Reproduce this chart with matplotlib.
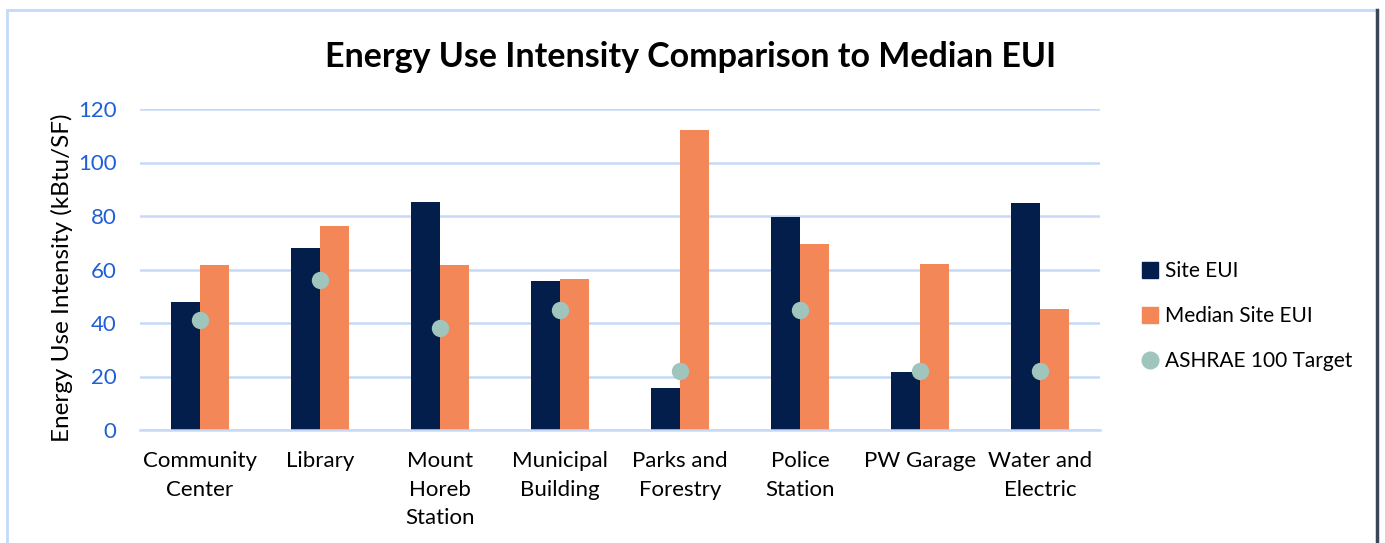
import numpy as np
from matplotlib import pyplot as plt
from matplotlib.patches import Rectangle
from matplotlib.lines import Line2D

plt.rcParams['font.family'] = ['Lato', 'DejaVu Sans']

# data
categories = ["Community\nCenter", "Library", "Mount\nHoreb\nStation", "Municipal\nBuilding",
              "Parks and\nForestry", "Police\nStation", "PW Garage", "Water and\nElectric"]
site_eui = [47.8, 68.2, 85.4, 55.6, 15.7, 79.5, 21.7, 85.0]
median_eui = [61.7, 76.1, 61.7, 56.3, 112.0, 69.5, 62.2, 45.4]
ashrae_target = [41.0, 56.0, 38.0, 45.0, 22.0, 45.0, 22.0, 22.0]
yticks = [0, 20, 40, 60, 80, 100, 120]

navy = "#031e4a"
orange = "#f48757"
teal = "#9fc5bd"
grid_col = "#c6d9f7"
tick_col = "#1f5fd6"

fig = plt.figure(figsize=(13.85, 5.43), dpi=100)
ax = fig.add_axes([140 / 1385, 113 / 543, 960 / 1385, 321 / 543])

x = np.arange(len(categories))
w = 0.24
ax.bar(x - w / 2, site_eui, width=w, color=navy, zorder=2, label="Site EUI")
ax.bar(x + w / 2, median_eui, width=w, color=orange, zorder=2, label="Median Site EUI")
ax.plot(x, ashrae_target, linestyle="none", marker="o", markersize=11.5,
        color=teal, zorder=3, label="ASHRAE 100 Target")

ax.set_xlim(-0.5, len(categories) - 0.5)
ax.set_ylim(0, 120)
ax.set_yticks(yticks)
ax.yaxis.grid(True, color=grid_col, linewidth=1.8, zorder=0)
ax.set_axisbelow(True)
for s in ["top", "right", "left"]:
    ax.spines[s].set_visible(False)
ax.spines["bottom"].set_color(grid_col)
ax.spines["bottom"].set_linewidth(1.8)
ax.tick_params(axis="y", length=0, labelsize=16, labelcolor=tick_col, pad=17)
ax.tick_params(axis="x", length=0, labelsize=16, pad=15)
ax.set_xticks(x)
ax.set_xticklabels(categories, linespacing=1.55, va="top")
ax.set_ylabel("Energy Use Intensity (kBtu/SF)", fontsize=17.5)
ax.yaxis.set_label_coords(-0.0695, 0.475)

fig.text(691 / 1385, 1 - 57 / 543, "Energy Use Intensity Comparison to Median EUI",
         ha="center", va="center", fontsize=24.5, fontweight="bold")

handles = [Line2D([], [], linestyle="none", marker="s", markersize=12, color=navy),
           Line2D([], [], linestyle="none", marker="s", markersize=12, color=orange),
           Line2D([], [], linestyle="none", marker="o", markersize=12, color=teal)]
fig.legend(handles, ["Site EUI", "Median Site EUI", "ASHRAE 100 Target"],
           loc="center left", bbox_to_anchor=(1131 / 1385, 1 - 316 / 543),
           frameon=False, fontsize=15, handlelength=0.8, handletextpad=0.35,
           labelspacing=1.2, borderpad=0)

# chart area border
fig.add_artist(Rectangle((7 / 1385, -0.05), 1370 / 1385, 1.05 - 10 / 543,
                         transform=fig.transFigure, fill=False,
                         edgecolor="#c6d9f7", linewidth=2))
fig.add_artist(Line2D([1377 / 1385, 1377 / 1385], [0, 1 - 10 / 543],
                      transform=fig.transFigure, color="#3a4658", linewidth=2.5))

plt.savefig("out.png", dpi=100)
